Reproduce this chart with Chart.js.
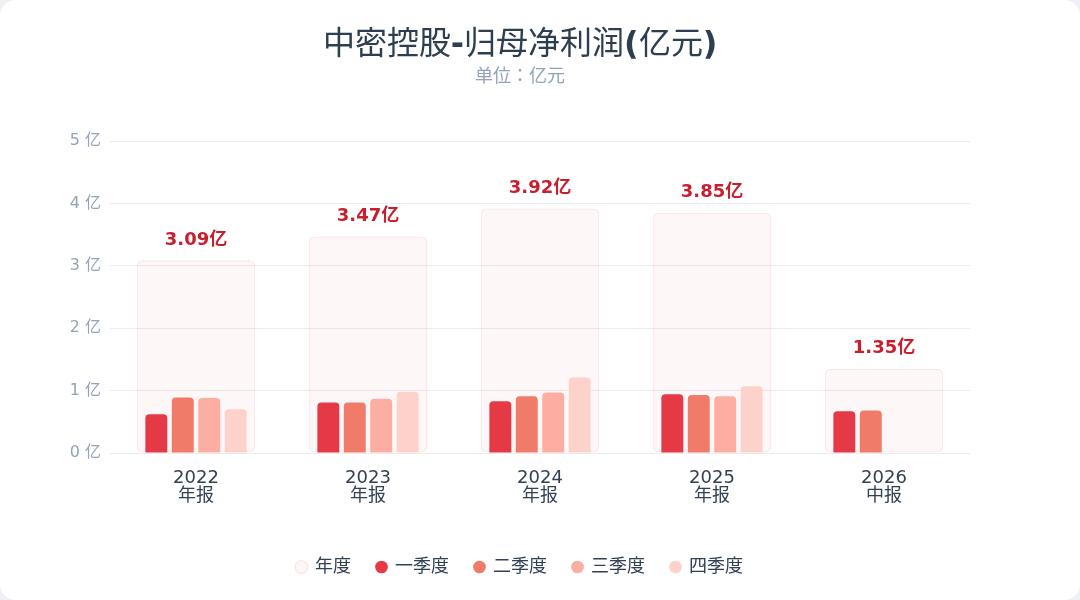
<!DOCTYPE html>
<html>
<head>
<meta charset="utf-8">
<script src="https://cdn.jsdelivr.net/npm/chart.js@4.4.1/dist/chart.umd.min.js"></script>
<style>
  /* regular-weight CJK face used for every weight, so the title keeps bold latin + regular CJK */
  @font-face {
    font-family: 'CJKRegular';
    src: local('Noto Sans CJK JP Regular'), local('NotoSansCJKjp-Regular'), local('Noto Sans CJK JP');
    font-weight: 100 900;
  }
  html, body { margin: 0; padding: 0; background: #eef0f4; }
  .card { width: 1080px; height: 600px; background: #fff; border-radius: 16px; overflow: hidden; position: relative; }
  #wrap { position: absolute; left: 0; top: 0; width: 1080px; height: 600px; }
</style>
</head>
<body>
<div class="card"><div id="wrap"><canvas id="profitChart"></canvas></div></div>
<script>
// period labels (two lines each)
var periods = [['2022', '年报'], ['2023', '年报'], ['2024', '年报'], ['2025', '年报'], ['2026', '中报']];
// annual totals, 亿元
var annual = [3.09, 3.47, 3.92, 3.85, 1.35];
// single-quarter values, 亿元
var q1 = [0.62, 0.81, 0.83, 0.94, 0.67];
var q2 = [0.89, 0.81, 0.91, 0.93, 0.68];
var q3 = [0.88, 0.87, 0.97, 0.91, null];
var q4 = [0.70, 0.98, 1.21, 1.07, null];
var yTicks = [0, 1, 2, 3, 4, 5];

var fontFamily = '"DejaVu Sans", "Noto Sans CJK JP", sans-serif';
var titleFamily = '"DejaVu Sans", CJKRegular, "Noto Sans CJK JP", sans-serif';

// label above each annual box
var annualLabels = {
    id: 'annualLabels',
    afterDatasetsDraw: function(chart) {
        var ctx = chart.ctx;
        var meta = chart.getDatasetMeta(0);
        ctx.save();
        ctx.font = 'bold 18px ' + fontFamily;
        ctx.fillStyle = '#c81e2d';
        ctx.textAlign = 'center';
        ctx.textBaseline = 'middle';
        meta.data.forEach(function(bar, i) {
            ctx.fillText(annual[i].toFixed(2) + '亿', bar.x, bar.y - 20);
        });
        ctx.restore();
    }
};

function quarterSet(label, data, color) {
    return {
        label: label,
        data: data,
        backgroundColor: color,
        borderRadius: { topLeft: 4, topRight: 4 },
        borderSkipped: 'bottom',
        categoryPercentage: 0.615,
        barPercentage: 0.83,
        order: 1
    };
}

function drawChart() {
    var ctx = document.getElementById('profitChart').getContext('2d');
    new Chart(ctx, {
        type: 'bar',
        data: {
            labels: periods,
            datasets: [
                {
                    label: '年度',
                    data: annual,
                    grouped: false,
                    backgroundColor: 'rgba(230, 57, 70, 0.04)',
                    borderColor: 'rgba(230, 57, 70, 0.15)',
                    borderWidth: 1,
                    borderRadius: 6,
                    borderSkipped: false,
                    categoryPercentage: 0.69,
                    barPercentage: 1,
                    order: 2
                },
                quarterSet('一季度', q1, '#e63946'),
                quarterSet('二季度', q2, '#f07b68'),
                quarterSet('三季度', q3, '#fcaea2'),
                quarterSet('四季度', q4, '#fdd2ca')
            ]
        },
        options: {
            responsive: true,
            maintainAspectRatio: false,
            animation: false,
            layout: { padding: { left: 70, right: 110, top: 8, bottom: 14 } },
            scales: {
                x: {
                    grid: { display: false },
                    border: { display: false },
                    afterFit: function(scale) { scale.height += 19; },
                    ticks: {
                        color: '#334155',
                        font: { family: fontFamily, size: 18, lineHeight: 1 },
                        padding: 8
                    }
                },
                y: {
                    min: 0,
                    max: 5,
                    afterBuildTicks: function(axis) {
                        axis.ticks = yTicks.map(function(v) { return { value: v }; });
                    },
                    afterFit: function(scale) { scale.width = 40; },
                    grid: { color: '#ebecf0', drawTicks: false },
                    border: { display: false },
                    ticks: {
                        color: '#94a3b8',
                        font: { family: fontFamily, size: 16 },
                        padding: 9,
                        callback: function(value) { return value + ' 亿'; }
                    }
                }
            },
            plugins: {
                title: {
                    display: true,
                    text: '中密控股-归母净利润(亿元)',
                    color: '#2d3e50',
                    font: { family: titleFamily, size: 32, weight: 'bold' },
                    padding: { top: 18, bottom: 2 }
                },
                subtitle: {
                    display: true,
                    text: '单位：亿元',
                    color: '#94a3b8',
                    font: { family: fontFamily, size: 18 },
                    padding: { bottom: 53 }
                },
                legend: {
                    position: 'bottom',
                    labels: {
                        usePointStyle: true,
                        pointStyle: 'circle',
                        boxWidth: 9,
                        boxHeight: 9,
                        padding: 26,
                        color: '#334155',
                        font: { family: fontFamily, size: 18 },
                        sort: function(a, b) { return a.datasetIndex - b.datasetIndex; }
                    }
                },
                tooltip: { enabled: false }
            }
        },
        plugins: [annualLabels]
    });
}

document.addEventListener('DOMContentLoaded', function() {
    document.fonts.load('bold 32px CJKRegular', '中').then(drawChart, drawChart);
});
</script>
</body>
</html>
